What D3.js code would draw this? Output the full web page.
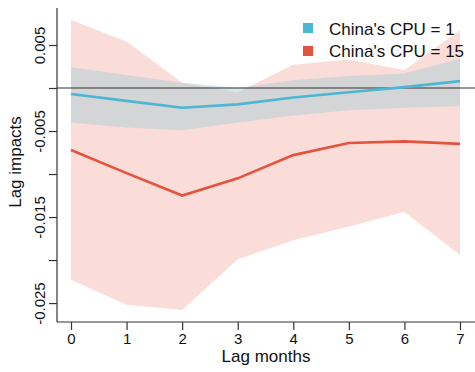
<!DOCTYPE html>
<html>
<head>
<meta charset="utf-8">
<script src="https://cdn.jsdelivr.net/npm/d3@7"></script>
<style>
  html, body { margin: 0; padding: 0; background: #fff; }
  svg { display: block; font-family: "Liberation Sans", Arial, sans-serif; }
</style>
</head>
<body>
<svg id="chart" width="475" height="372"></svg>
<script>
// Lag months on the x axis
const lags = [0, 1, 2, 3, 4, 5, 6, 7];

// China's CPU = 1: point estimate and confidence band
const cpu1    = [-0.0007, -0.0015, -0.0023, -0.0019, -0.0011, -0.0005, 0.0001, 0.0008];
const cpu1Lo  = [-0.0040, -0.0046, -0.0049, -0.0040, -0.0032, -0.0026, -0.0023, -0.0021];
const cpu1Hi  = [ 0.0024,  0.0015,  0.0006,  0.0000,  0.0009,  0.0014,  0.0017,  0.0034];

// China's CPU = 15: point estimate and confidence band
const cpu15   = [-0.0072, -0.0099, -0.0125, -0.0105, -0.0078, -0.0064, -0.0062, -0.0065];
const cpu15Lo = [-0.0223, -0.0252, -0.0258, -0.0199, -0.0177, -0.0161, -0.0144, -0.0194];
const cpu15Hi = [ 0.0079,  0.0054,  0.0006, -0.0005,  0.0027,  0.0033,  0.0021,  0.0067];

const yTicks = [0.005, 0, -0.005, -0.01, -0.015, -0.02, -0.025];
const yTickLabels = ["0.005", "", "-0.005", "", "-0.015", "", "-0.025"];

const seriesNames = ["China's CPU = 1", "China's CPU = 15"];

const svg = d3.select("#chart");

const x = d3.scaleLinear().domain([-0.252, 7.27]).range([57, 475]);
const y = d3.scaleLinear().domain([-0.0272, 0.0093]).range([322, 8]);

const axisColor = "#333";

// confidence bands
const band = (lo, hi) => d3.area()
  .x((d, i) => x(lags[i]))
  .y0((d, i) => y(lo[i]))
  .y1((d, i) => y(hi[i]))(lags);

svg.append("path").attr("d", band(cpu15Lo, cpu15Hi))
  .attr("fill", "rgba(232,80,58,0.2)");
svg.append("path").attr("d", band(cpu1Lo, cpu1Hi))
  .attr("fill", "rgba(160,203,211,0.42)");

// zero reference line
svg.append("line")
  .attr("x1", x.range()[0]).attr("x2", x.range()[1])
  .attr("y1", y(0)).attr("y2", y(0))
  .attr("stroke", axisColor).attr("stroke-width", 1.2);

// estimate lines
const line = vals => d3.line()
  .x((d, i) => x(lags[i]))
  .y((d, i) => y(vals[i]))(lags);

svg.append("path").attr("d", line(cpu1))
  .attr("fill", "none").attr("stroke", "#4DB6D3").attr("stroke-width", 2.6);
svg.append("path").attr("d", line(cpu15))
  .attr("fill", "none").attr("stroke", "#E5533D").attr("stroke-width", 2.6);

// y axis
const yAxis = svg.append("g")
  .attr("transform", `translate(${x.range()[0]},0)`)
  .call(d3.axisLeft(y).tickValues(yTicks).tickSize(8).tickFormat(() => ""));
yAxis.select(".domain").attr("d", `M0,${y.range()[1]}V${y.range()[0]}`)
  .attr("stroke", axisColor).attr("stroke-width", 1.2);
yAxis.selectAll(".tick line").attr("stroke", axisColor).attr("stroke-width", 1.2);
yAxis.selectAll(".tick").append("text")
  .attr("transform", "translate(-12,0) rotate(-90)")
  .attr("text-anchor", "middle")
  .attr("fill", "#111")
  .attr("font-size", 15)
  .text((d, i) => yTickLabels[i]);

// x axis
const xAxis = svg.append("g")
  .attr("transform", `translate(0,${y.range()[0]})`)
  .call(d3.axisBottom(x).tickValues(lags).tickSize(8).tickFormat(d3.format("d")));
xAxis.select(".domain").attr("d", `M${x.range()[0]},0H${x.range()[1]}`)
  .attr("stroke", axisColor).attr("stroke-width", 1.2);
xAxis.selectAll(".tick line").attr("stroke", axisColor).attr("stroke-width", 1.2);
xAxis.selectAll(".tick text")
  .attr("y", 22).attr("dy", null)
  .attr("fill", "#111").attr("font-size", 15)
  .attr("font-family", "Liberation Sans, Arial, sans-serif");

// axis titles
svg.append("text")
  .attr("x", 266).attr("y", 362)
  .attr("text-anchor", "middle").attr("font-size", 17).attr("fill", "#111")
  .text("Lag months");
svg.append("text")
  .attr("transform", "translate(21,162) rotate(-90)")
  .attr("text-anchor", "middle").attr("font-size", 17).attr("fill", "#111")
  .text("Lag impacts");

// legend
const legendColors = ["#4DB6D3", "#E5533D"];
const legend = svg.append("g");
seriesNames.forEach((name, i) => {
  legend.append("rect")
    .attr("x", 303).attr("y", 23 + i * 23)
    .attr("width", 10).attr("height", 10)
    .attr("fill", legendColors[i]);
  legend.append("text")
    .attr("x", 329).attr("y", 35 + i * 21.5)
    .attr("font-size", 17).attr("fill", "#111")
    .text(name);
});
</script>
</body>
</html>
